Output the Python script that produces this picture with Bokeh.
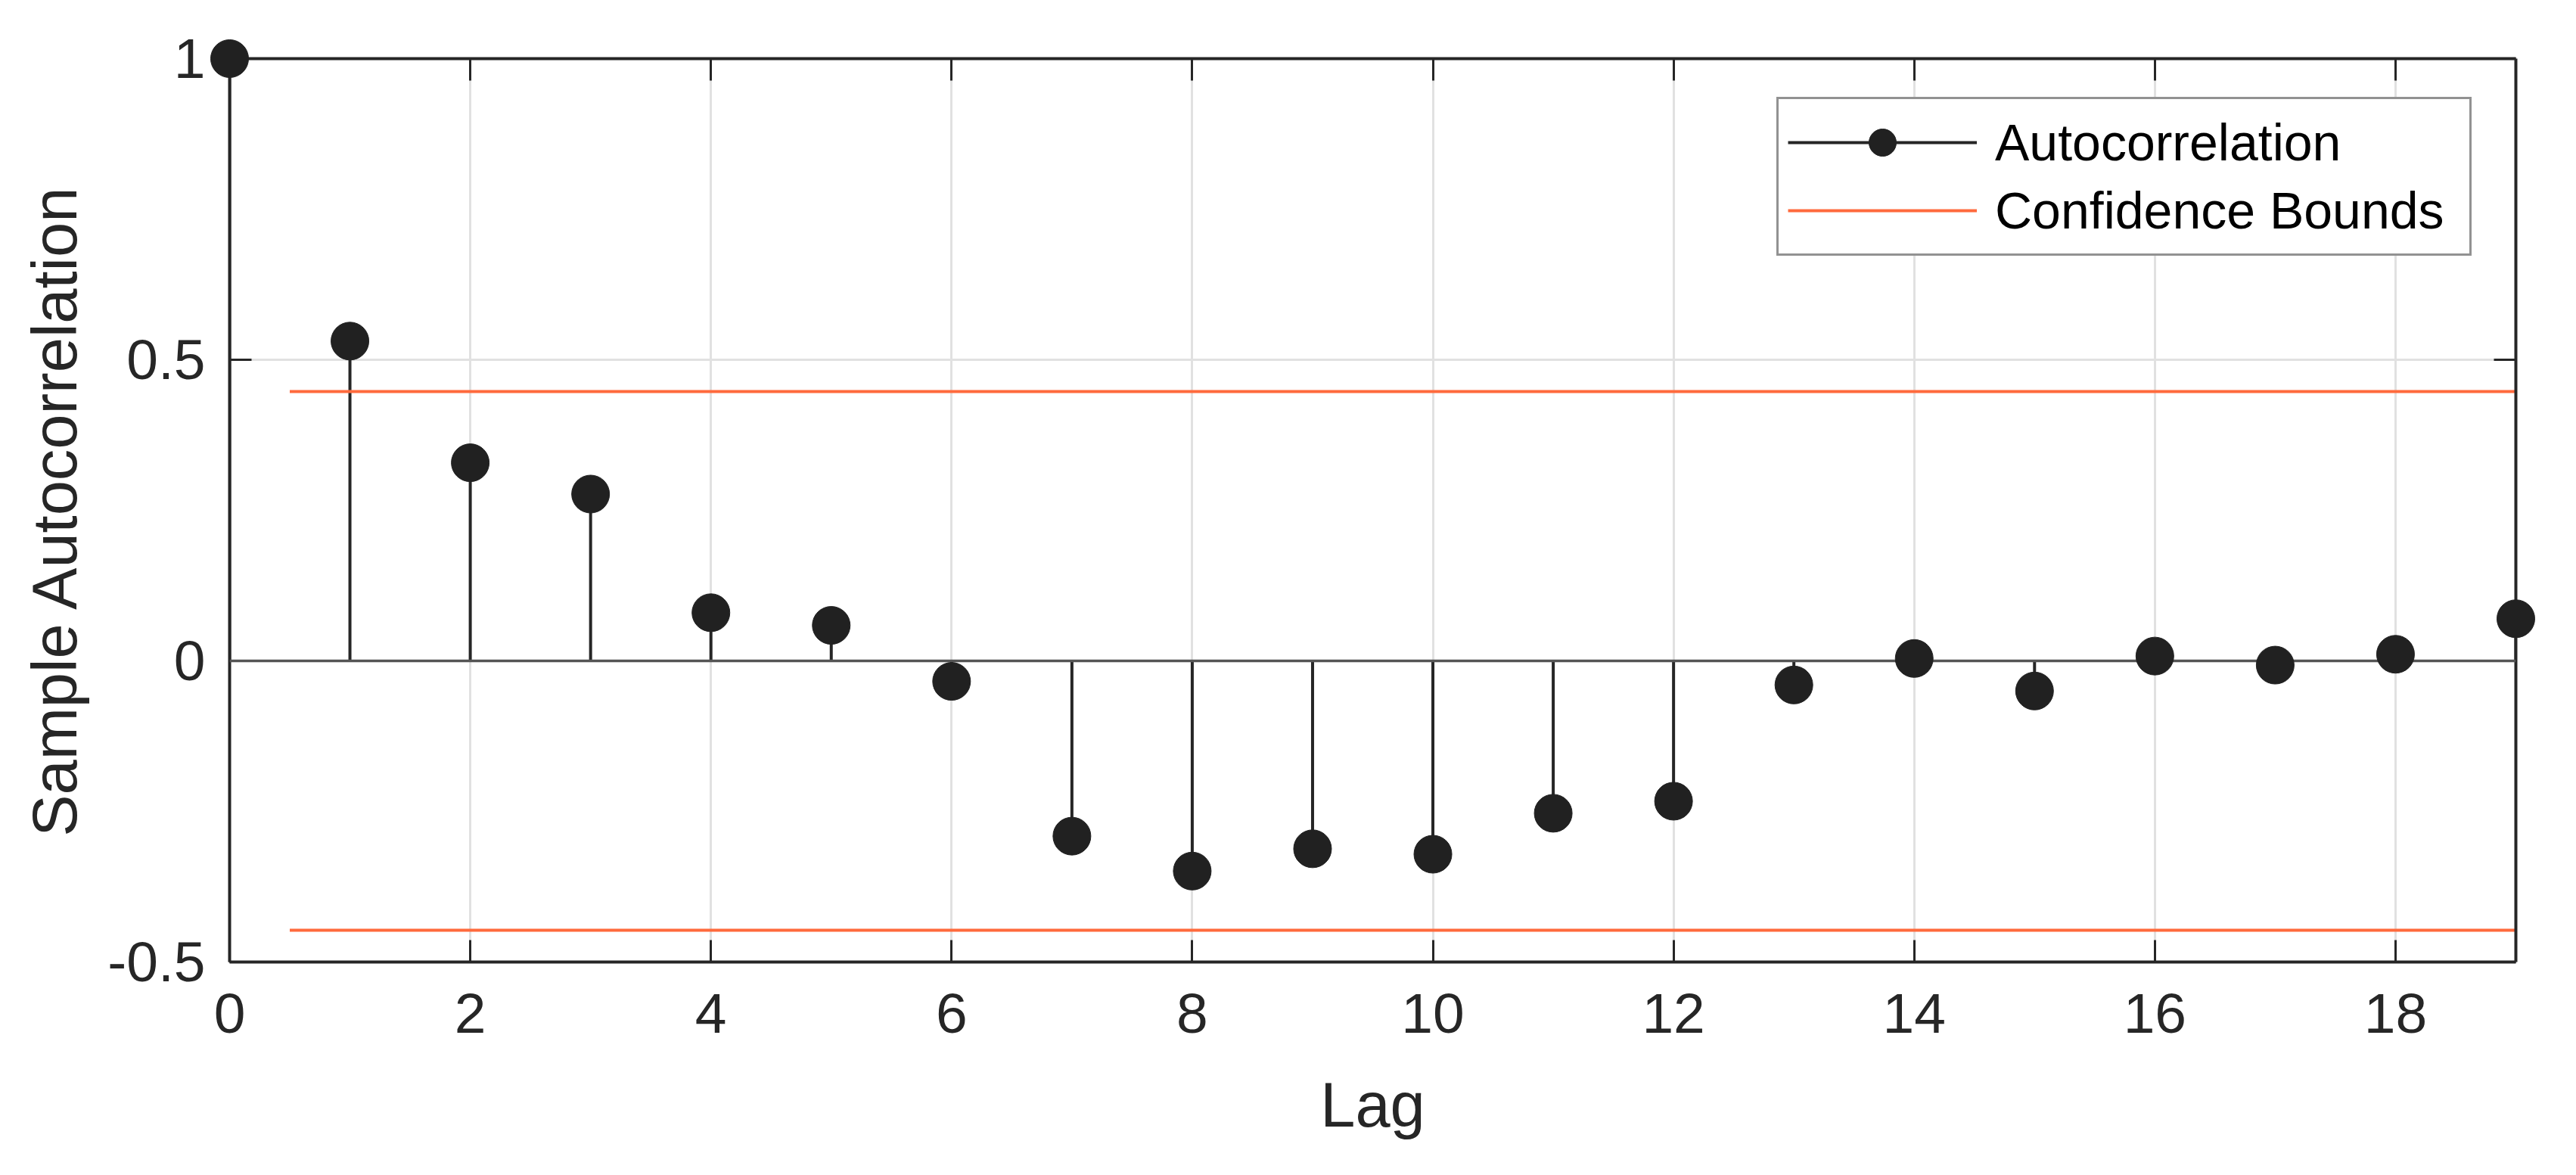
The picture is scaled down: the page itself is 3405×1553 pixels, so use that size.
from bokeh.plotting import figure
from bokeh.models import Range1d, FixedTicker, LinearAxis, Legend, LegendItem, Span
from bokeh.embed import file_html
from bokeh.resources import INLINE

# ---- data ----
lags = list(range(20))
acf = [1.0, 0.531, 0.329, 0.277, 0.080, 0.059, -0.034, -0.291, -0.349, -0.312,
       -0.321, -0.253, -0.233, -0.040, 0.004, -0.050, 0.008, -0.007, 0.011, 0.070]
bound_lags = [0.5, 19]
bound_value = 0.4472
x_ticks = [0, 2, 4, 6, 8, 10, 12, 14, 16, 18]
y_ticks = [-0.5, 0, 0.5, 1]
y_tick_labels = ["-0.5", "0", "0.5", "1"]
x_label = "Lag"
y_label = "Sample Autocorrelation"
series_names = ["Autocorrelation", "Confidence Bounds"]

FONT = "Liberation Sans"
DARK = "#262626"
ORANGE = "#ff6a3d"

p = figure(width=3396, height=1544,
           x_range=Range1d(lags[0], lags[-1]), y_range=Range1d(y_ticks[0], y_ticks[-1]),
           output_backend="svg", toolbar_location=None,
           min_border_left=303, min_border_top=77,
           min_border_right=71, min_border_bottom=273)
p.outline_line_color = None
p.background_fill_color = "white"
p.border_fill_color = "white"

# grid
p.xgrid.ticker = FixedTicker(ticks=x_ticks)
p.ygrid.ticker = FixedTicker(ticks=y_ticks)
for g in (p.xgrid, p.ygrid):
    g.grid_line_color = "#e1e1e1"
    g.grid_line_width = 3

def style_axis(ax, ticks, show_labels=True):
    ax.ticker = FixedTicker(ticks=ticks)
    ax.axis_line_color = DARK
    ax.axis_line_width = 4
    ax.major_tick_line_color = DARK
    ax.major_tick_line_width = 3
    ax.major_tick_in = 29
    ax.major_tick_out = 0
    ax.minor_tick_line_color = None
    ax.major_label_text_font = FONT
    ax.axis_label_text_font = FONT
    ax.axis_label_text_font_style = "normal"
    ax.axis_label_text_color = DARK
    ax.axis_label_text_font_size = "83px"
    if show_labels:
        ax.major_label_text_color = DARK
        ax.major_label_text_font_size = "75px"
    else:
        # box edge: ticks only, no labels drawn
        ax.major_label_text_color = None
        ax.major_label_text_alpha = 0
        ax.major_label_text_font_size = "8px"
        ax.major_label_standoff = 0

xa = p.xaxis[0]
ya = p.yaxis[0]
style_axis(xa, x_ticks)
style_axis(ya, y_ticks)
ya.major_label_overrides = {t: s for t, s in zip(y_ticks, y_tick_labels)}
xa.axis_label = x_label
ya.axis_label = y_label
xa.major_label_standoff = 42
ya.major_label_standoff = 32
xa.axis_label_standoff = 46
ya.axis_label_standoff = 20

top = LinearAxis()
style_axis(top, x_ticks, show_labels=False)
p.add_layout(top, "above")
right = LinearAxis()
style_axis(right, y_ticks, show_labels=False)
p.add_layout(right, "right")

# stem baseline
p.add_layout(Span(location=0, dimension="width", line_color="#555555", line_width=3.5))

# stems
stems = p.segment(x0=lags, y0=[0] * len(lags), x1=lags, y1=acf,
                  line_color=DARK, line_width=4)
# markers
dots = p.scatter(lags, acf, size=50, marker="circle",
                 fill_color="#212121", line_color="#212121", level="overlay")

# confidence bounds
upper = p.line(bound_lags, [bound_value] * 2, line_color=ORANGE, line_width=4)
lower = p.line(bound_lags, [-bound_value] * 2, line_color=ORANGE, line_width=4)

legend = Legend(items=[
    LegendItem(label=series_names[0], renderers=[stems, dots]),
    LegendItem(label=series_names[1], renderers=[upper]),
], location=(2045, 933))
legend.label_text_font = FONT
legend.label_text_font_size = "68px"
legend.label_text_color = "#000000"
legend.glyph_width = 250
legend.glyph_height = 90
legend.label_height = 68
legend.label_width = 615
legend.label_standoff = 24
legend.spacing = 0
legend.padding = 12
legend.margin = 0
legend.border_line_color = DARK
legend.border_line_width = 3
legend.background_fill_color = "white"
legend.background_fill_alpha = 1
p.add_layout(legend, "center")

open("out.html", "w").write(file_html(p, INLINE))
